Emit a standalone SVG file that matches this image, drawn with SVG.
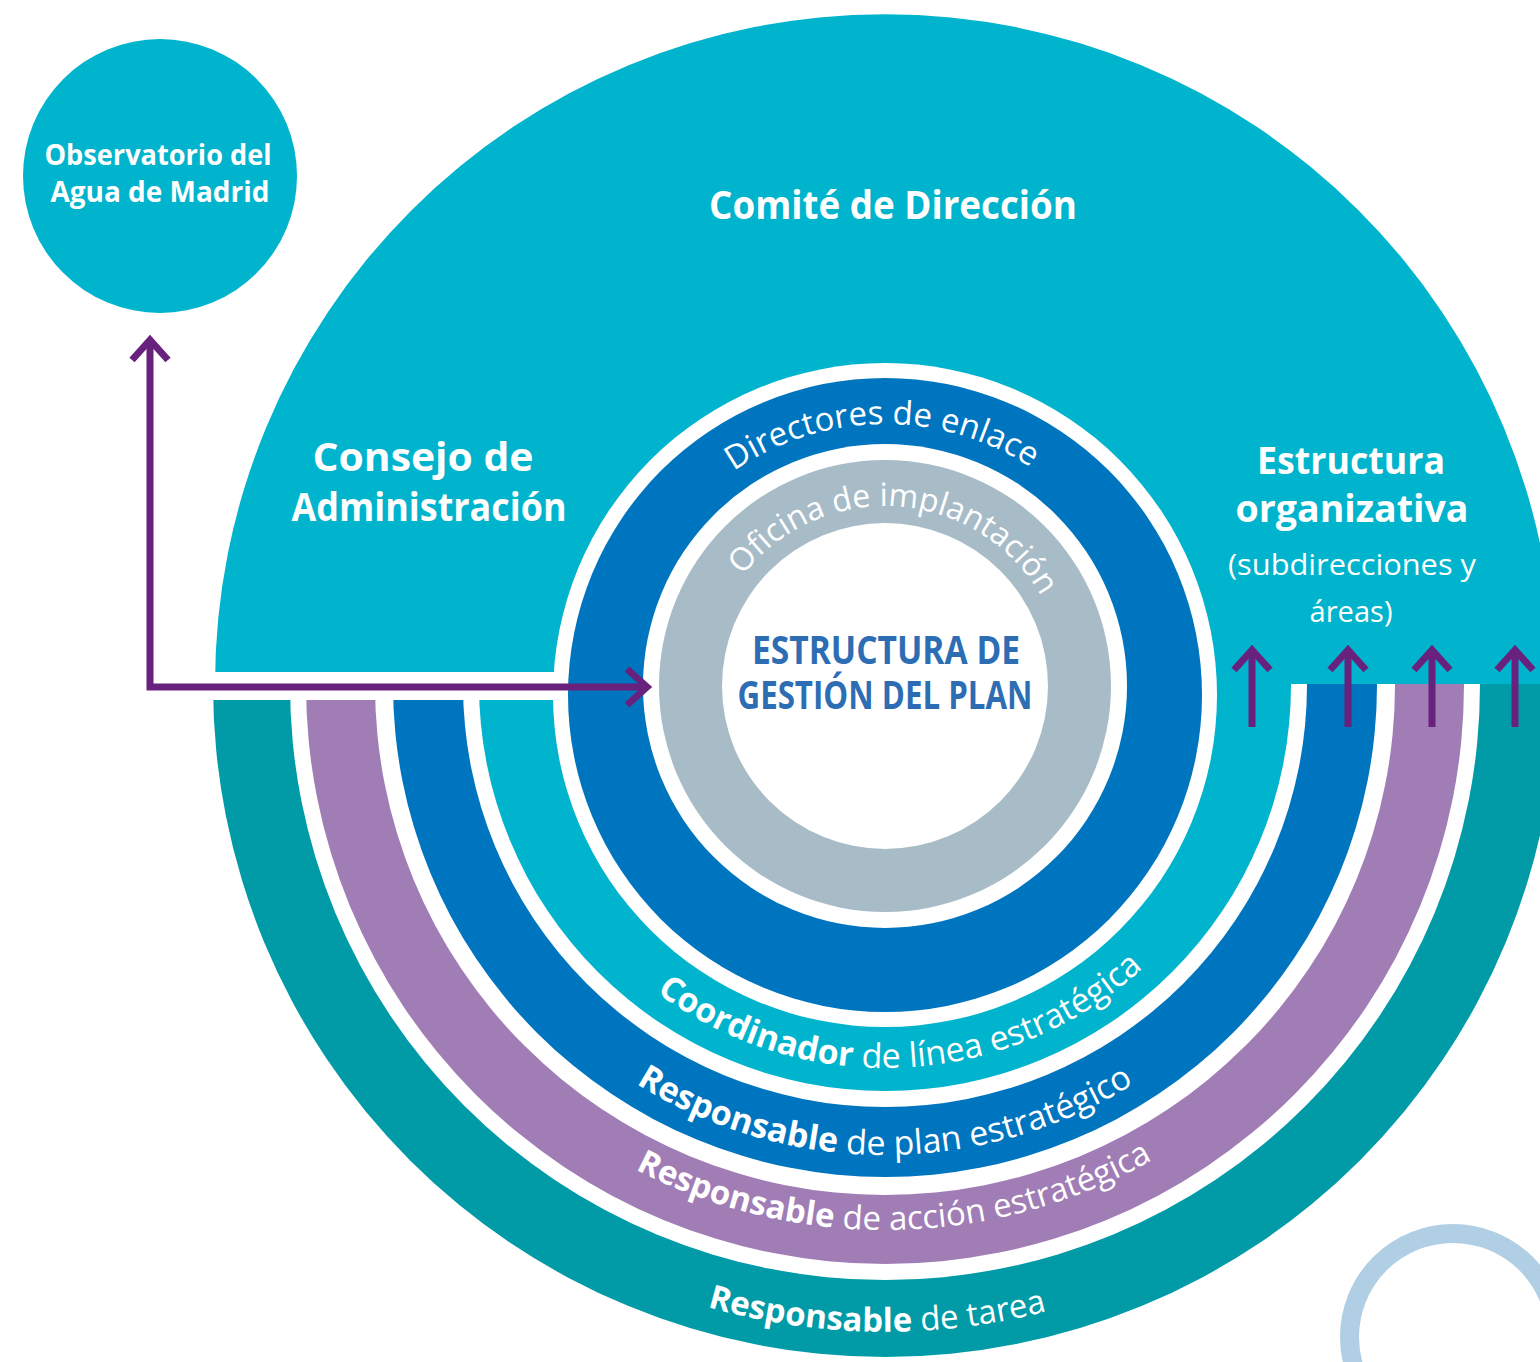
<svg xmlns="http://www.w3.org/2000/svg" width="1540" height="1362" viewBox="0 0 1540 1362">
<defs>
<style>
.lbl{font-family:"Open Sans","Noto Sans","Liberation Sans",sans-serif;fill:#fff}
.b{font-weight:700}
.r{font-weight:400}
.ctr{font-family:"Open Sans","Liberation Sans",sans-serif;font-weight:700;fill:#2D6DB4}
.conn{fill:none;stroke:#69217E;stroke-width:7}
.w{fill:#fff}
</style>
<clipPath id="lowerClip"><rect x="0" y="684" width="1540" height="678"/></clipPath>
<marker id="chev" markerUnits="userSpaceOnUse" viewBox="-30 -30 40 60" markerWidth="40" markerHeight="60" refX="0" refY="0" orient="auto-start-reverse">
<path d="M-20,-18 L0,0 L-20,18" fill="none" stroke="#69217E" stroke-width="7"/>
</marker>
<path id="arcDir" d="M619,690 A266,266 0 0 1 1151,690"/>
<path id="arcOfi" d="M705,686 A180,180 0 0 1 1065,686"/>
<path id="arcCoord" d="M502,685 A383,383 0 0 0 1268,685"/>
<path id="arcPlan" d="M415,685 A470,470 0 0 0 1355,685"/>
<path id="arcAcc" d="M340,685 A545,545 0 0 0 1430,685"/>
<path id="arcTarea" d="M238,685 A647,647 0 0 0 1532,685"/>
</defs>

<g id="comite-direccion">
<path d="M215,684 A670,670 0 0 1 1555,684 Z" fill="#00B4CD"/>
<text class="lbl b" x="893" y="219" font-size="40" text-anchor="middle" textLength="368" lengthAdjust="spacingAndGlyphs">Comité de Dirección</text>
</g>

<g id="niveles-inferiores" clip-path="url(#lowerClip)">
<circle cx="885" cy="685" r="672" fill="#009BA6"/>
<circle cx="885" cy="685" r="595" class="w"/>
<circle cx="885" cy="685" r="579" fill="#A17DB6"/>
<circle cx="885" cy="685" r="510" class="w"/>
<circle cx="885" cy="685" r="492" fill="#0075BF"/>
<circle cx="885" cy="685" r="422" class="w"/>
<circle cx="885" cy="685" r="406" fill="#00B4CD"/>
</g>
<rect x="150" y="672" width="450" height="28" class="w"/>

<g id="responsable-tarea">
<text class="lbl r" font-size="33"><textPath href="#arcTarea" startOffset="49.6%" text-anchor="middle"><tspan class="b">Responsable</tspan> de tarea</textPath></text>
</g>
<g id="responsable-accion">
<text class="lbl r" font-size="33"><textPath href="#arcAcc" startOffset="50.6%" text-anchor="middle"><tspan class="b">Responsable</tspan> de acción estratégica</textPath></text>
</g>
<g id="responsable-plan">
<text class="lbl r" font-size="34"><textPath href="#arcPlan" startOffset="50%" text-anchor="middle"><tspan class="b">Responsable</tspan> de plan estratégico</textPath></text>
</g>
<g id="coordinador-linea">
<text class="lbl r" font-size="34"><textPath href="#arcCoord" startOffset="51.6%" text-anchor="middle"><tspan class="b">Coordinador</tspan> de línea estratégica</textPath></text>
</g>

<g id="directores-enlace">
<circle cx="885" cy="695" r="332" class="w"/>
<circle cx="885" cy="695" r="317" fill="#0075BF"/>
<text class="lbl r" font-size="33"><textPath href="#arcDir" startOffset="49.6%" text-anchor="middle">Directores de enlace</textPath></text>
</g>

<g id="oficina-implantacion">
<circle cx="885" cy="686" r="242" class="w"/>
<circle cx="885" cy="686" r="226" fill="#A8BCC8"/>
<text class="lbl r" font-size="32"><textPath href="#arcOfi" startOffset="52.2%" text-anchor="middle">Oficina de implantación</textPath></text>
</g>

<g id="estructura-gestion">
<circle cx="885" cy="686" r="163" class="w"/>
<text class="ctr" x="886" y="664" font-size="40" text-anchor="middle" textLength="268" lengthAdjust="spacingAndGlyphs">ESTRUCTURA DE</text>
<text class="ctr" x="885" y="709" font-size="40" text-anchor="middle" textLength="295" lengthAdjust="spacingAndGlyphs">GESTIÓN DEL PLAN</text>
</g>

<g id="consejo-administracion">
<text class="lbl b" x="423" y="471" font-size="40" text-anchor="middle" textLength="221" lengthAdjust="spacingAndGlyphs">Consejo de</text>
<text class="lbl b" x="429" y="521" font-size="40" text-anchor="middle" textLength="275" lengthAdjust="spacingAndGlyphs">Administración</text>
</g>

<g id="estructura-organizativa">
<text class="lbl b" x="1351" y="474" font-size="37" text-anchor="middle" textLength="188" lengthAdjust="spacingAndGlyphs">Estructura</text>
<text class="lbl b" x="1352" y="522" font-size="37" text-anchor="middle" textLength="233" lengthAdjust="spacingAndGlyphs">organizativa</text>
<text class="lbl r" x="1352" y="575" font-size="30" text-anchor="middle" textLength="248" lengthAdjust="spacingAndGlyphs">(subdirecciones y</text>
<text class="lbl r" x="1351" y="622" font-size="30" text-anchor="middle" textLength="83" lengthAdjust="spacingAndGlyphs">áreas)</text>
</g>

<g id="observatorio">
<circle cx="160" cy="176" r="137" fill="#00B4CD"/>
<text class="lbl b" x="158" y="165" font-size="28" text-anchor="middle" textLength="227" lengthAdjust="spacingAndGlyphs">Observatorio del</text>
<text class="lbl b" x="160" y="202" font-size="28" text-anchor="middle" textLength="219" lengthAdjust="spacingAndGlyphs">Agua de Madrid</text>
</g>

<g id="conectores">
<path class="conn" d="M150,340 V687 H647" marker-start="url(#chev)" marker-end="url(#chev)"/>
<path class="conn" d="M1252,727 V650" marker-end="url(#chev)"/>
<path class="conn" d="M1348,727 V650" marker-end="url(#chev)"/>
<path class="conn" d="M1432,727 V650" marker-end="url(#chev)"/>
<path class="conn" d="M1515,727 V650" marker-end="url(#chev)"/>
</g>

<g id="decoracion">
<circle cx="1453" cy="1337" r="103.5" fill="none" stroke="#B0CFE5" stroke-width="19"/>
</g>
</svg>
